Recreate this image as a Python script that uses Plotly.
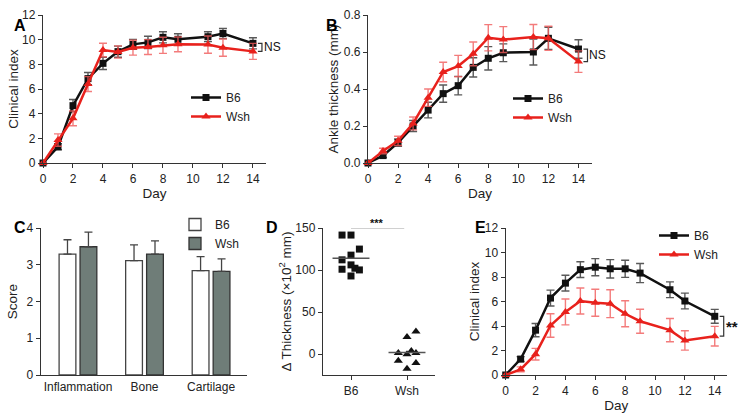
import plotly.graph_objects as go

# ---------------- data ----------------
days = [0, 1, 2, 3, 4, 5, 6, 7, 8, 9, 11, 12, 14]
day_ticks = [0, 2, 4, 6, 8, 10, 12, 14]

a_b6 = [0, 1.32, 4.65, 6.84, 8.08, 9.03, 9.62, 9.78, 10.19, 10.03, 10.24, 10.5, 9.7]
a_b6_err = [0, 0.25, 0.5, 0.5, 0.5, 0.45, 0.4, 0.5, 0.45, 0.45, 0.4, 0.4, 0.45]
a_wsh = [0, 1.86, 3.62, 6.4, 9.16, 9.0, 9.35, 9.4, 9.54, 9.62, 9.6, 9.35, 9.05]
a_wsh_err = [0, 0.5, 0.6, 0.6, 0.55, 0.5, 0.6, 0.6, 0.65, 0.6, 0.7, 0.7, 0.65]

b_b6 = [0, 0.04, 0.11, 0.2, 0.286, 0.375, 0.418, 0.517, 0.566, 0.596, 0.6, 0.674, 0.616]
b_b6_err = [0, 0.01, 0.02, 0.03, 0.042, 0.047, 0.05, 0.052, 0.063, 0.048, 0.07, 0.06, 0.05]
b_wsh = [0, 0.065, 0.12, 0.214, 0.353, 0.492, 0.524, 0.59, 0.677, 0.667, 0.681, 0.674, 0.548]
b_wsh_err = [0, 0.015, 0.025, 0.035, 0.047, 0.053, 0.058, 0.064, 0.071, 0.07, 0.068, 0.065, 0.058]

c_cats = ["Inflammation", "Bone", "Cartilage"]
c_b6 = [3.29, 3.11, 2.84]
c_b6_err = [0.39, 0.43, 0.38]
c_wsh = [3.49, 3.29, 2.82]
c_wsh_err = [0.40, 0.36, 0.34]

d_groups = ["B6", "Wsh"]
d_b6 = [141.6, 141.6, 124.9, 117.7, 112.1, 106.1, 100.9, 102.1, 100.1, 92.9]
d_b6_jitter = [-0.16, 0, 0.15, 0, -0.16, 0, -0.16, 0.07, 0.15, 0]
d_wsh = [20.3, 26.7, 1.2, -0.4, 3.6, 1.2, -8.0, -10.8, -17.6]
d_wsh_jitter = [0, 0.16, -0.155, 0, 0.077, 0.16, -0.155, 0.16, 0]

e_b6 = [0, 1.3, 3.66, 6.28, 7.5, 8.6, 8.8, 8.67, 8.67, 8.32, 6.96, 6.04, 4.79]
e_b6_err = [0, 0.2, 0.54, 0.65, 0.64, 0.64, 0.7, 0.75, 0.7, 0.78, 0.64, 0.64, 0.57]
e_wsh = [0, 0.46, 1.7, 4.04, 5.15, 6.04, 5.9, 5.82, 5.0, 4.39, 3.66, 2.82, 3.17]
e_wsh_err = [0, 0.2, 0.47, 0.96, 1.06, 1.06, 1.1, 1.14, 1.06, 0.98, 0.95, 0.79, 0.8]

# ---------------- style ----------------
FONT = "Liberation Sans, Arial, Helvetica, sans-serif"
BLACK = "#111111"
RED = "#e8211c"
ERR_BLACK = "rgba(60,60,60,0.85)"
ERR_RED = "rgba(240,90,90,0.8)"
AXIS = "#333333"
WSH_FILL = "#6f7d78"

fig = go.Figure()


def line_pair(xa, ya, b6, b6e, wsh, wshe, legend):
    fig.add_trace(go.Scatter(
        x=days, y=b6, mode="lines+markers", name="B6", xaxis=xa, yaxis=ya,
        line=dict(color=BLACK, width=2.5),
        marker=dict(symbol="square", size=7, color=BLACK),
        error_y=dict(type="data", array=b6e, color=ERR_BLACK, thickness=1.4, width=4),
        cliponaxis=False, legend=legend))
    fig.add_trace(go.Scatter(
        x=days, y=wsh, mode="lines+markers", name="Wsh", xaxis=xa, yaxis=ya,
        line=dict(color=RED, width=2.5),
        marker=dict(symbol="triangle-up", size=8, color=RED),
        error_y=dict(type="data", array=wshe, color=ERR_RED, thickness=1.4, width=4),
        cliponaxis=False, legend=legend))


line_pair("x", "y", a_b6, a_b6_err, a_wsh, a_wsh_err, "legend")
line_pair("x2", "y2", b_b6, b_b6_err, b_wsh, b_wsh_err, "legend2")
line_pair("x5", "y5", e_b6, e_b6_err, e_wsh, e_wsh_err, "legend5")

# Panel C bars
fig.add_trace(go.Bar(
    x=c_cats, y=c_b6, name="B6", xaxis="x3", yaxis="y3",
    marker=dict(color="white", line=dict(color="#444444", width=1.3)),
    error_y=dict(type="data", array=c_b6_err, arrayminus=[0] * 3, symmetric=False,
                 color="#444444", thickness=1.3, width=4),
    legend="legend3"))
fig.add_trace(go.Bar(
    x=c_cats, y=c_wsh, name="Wsh", xaxis="x3", yaxis="y3",
    marker=dict(color=WSH_FILL, line=dict(color="#333333", width=1.3)),
    error_y=dict(type="data", array=c_wsh_err, arrayminus=[0] * 3, symmetric=False,
                 color="#444444", thickness=1.3, width=4),
    legend="legend3"))

# Panel D dot plot
fig.add_trace(go.Scatter(
    x=[0 + j for j in d_b6_jitter], y=d_b6, mode="markers", xaxis="x4", yaxis="y4",
    marker=dict(symbol="square", size=7, color=BLACK), showlegend=False, cliponaxis=False))
fig.add_trace(go.Scatter(
    x=[1 + j for j in d_wsh_jitter], y=d_wsh, mode="markers", xaxis="x4", yaxis="y4",
    marker=dict(symbol="triangle-up", size=8, color=BLACK), showlegend=False, cliponaxis=False))
for i, vals in enumerate([d_b6, d_wsh]):
    m = sum(vals) / len(vals)
    fig.add_trace(go.Scatter(
        x=[i - 0.33, i + 0.33], y=[m, m], mode="lines", xaxis="x4", yaxis="y4",
        line=dict(color="#555555", width=1.5), showlegend=False, cliponaxis=False))

# significance line in D
top_d = max(d_b6) + 9
fig.add_shape(type="line", xref="x4", yref="y4", x0=0, x1=0.95, y0=top_d, y1=top_d,
              line=dict(color="#444444", width=1.3))
fig.add_annotation(x=0.47, y=1.0, xref="x4", yref="y4 domain", text="<b>***</b>", showarrow=False,
                   yanchor="bottom", font=dict(size=11, color=BLACK, family=FONT), yshift=-3)


# brackets
def bracket(xr, yr, y0, y1, text, size, bold=False):
    fig.add_shape(type="path", xref=xr, yref=yr,
                  path=f"M 14.33,{y0} L 14.6,{y0} L 14.6,{y1} L 14.33,{y1}",
                  line=dict(color="#333333", width=1.2))
    fig.add_annotation(x=14.6, y=(y0 + y1) / 2, xref=xr, yref=yr,
                       text=f"<b>{text}</b>" if bold else text, showarrow=False,
                       xanchor="left", xshift=0, font=dict(size=size, color=BLACK, family=FONT))


bracket("x", "y", a_b6[-1], a_wsh[-1], "NS", 12)
bracket("x2", "y2", b_b6[-1], b_wsh[-1], "NS", 12)
bracket("x5", "y5", e_b6[-1], e_wsh[-1], "**", 15, bold=True)

# ---------------- axes ----------------
base = dict(showline=True, linecolor=AXIS, linewidth=1.4, ticks="outside", ticklen=4,
            tickwidth=1.3, tickcolor=AXIS, showgrid=False, zeroline=False, automargin=False,
            tickfont=dict(size=12, color="#222222", family=FONT),
            title_font=dict(size=13.5, color="#222222", family=FONT))

H = 415.0
W = 746.0
top_y = [1 - 163 / H, 1 - 15 / H]
bot_y = [1 - 375 / H, 1 - 228 / H]

fig.update_layout(
    xaxis=dict(base, domain=[43 / W, 266 / W], range=[0, 14.87], tickvals=day_ticks,
               title=dict(text="Day", standoff=0), anchor="y"),
    yaxis=dict(base, domain=top_y, range=[0, 12], dtick=2,
               title=dict(text="Clinical index", standoff=0), anchor="x"),
    xaxis2=dict(base, domain=[368 / W, 592 / W], range=[0, 14.9], tickvals=day_ticks,
                title=dict(text="Day", standoff=0), anchor="y2"),
    yaxis2=dict(base, domain=top_y, range=[0, 0.8], tickvals=[0, 0.2, 0.4, 0.6, 0.8],
                tickformat=".1f", title=dict(text="Ankle thickness (mm)", standoff=1), anchor="x2"),
    xaxis3=dict(base, domain=[40.7 / W, 247 / W], range=[-0.56, 2.54], ticks="", anchor="y3"),
    yaxis3=dict(base, domain=bot_y, range=[0, 4], dtick=1,
                title=dict(text="Score", standoff=5), anchor="x3"),
    xaxis4=dict(base, domain=[323 / W, 435 / W], range=[-0.5, 1.5], tickvals=[0, 1],
                ticktext=d_groups, anchor="y4"),
    yaxis4=dict(base, domain=bot_y, range=[-25, 150], tickvals=[0, 50, 100, 150],
                title=dict(text="Δ Thickness (×10<sup>2</sup> mm)", standoff=0), anchor="x4"),
    xaxis5=dict(base, domain=[505.7 / W, 726.7 / W], range=[0, 14.8], tickvals=day_ticks,
                title=dict(text="Day", standoff=0), anchor="y5"),
    yaxis5=dict(base, domain=bot_y, range=[0, 12], dtick=2,
                title=dict(text="Clinical index", standoff=2), anchor="x5"),
    barmode="group", bargap=0.37, bargroupgap=0.2,
    width=746, height=415, margin=dict(l=0, r=0, t=0, b=0),
    paper_bgcolor="white", plot_bgcolor="white",
    font=dict(family=FONT, color="#222222"),
)

leg = dict(bgcolor="rgba(0,0,0,0)", font=dict(size=12, family=FONT, color="#222222"),
           xanchor="left", yanchor="top", itemwidth=30, tracegroupgap=0, borderwidth=0)
fig.update_layout(
    legend=dict(leg, x=186 / W, y=1 - 83 / H),
    legend2=dict(leg, x=508 / W, y=1 - 84 / H),
    legend3=dict(leg, x=175 / W, y=1 - 210 / H),
    legend5=dict(leg, x=654 / W, y=1 - 221 / H),
)

# panel letters
for txt, px, py in [("A", 12, 15), ("B", 332, 15), ("C", 12, 227), ("D", 272, 227), ("E", 480, 227)]:
    fig.add_annotation(x=px / W, y=1 - py / H, xref="paper", yref="paper", text=f"<b>{txt}</b>",
                       showarrow=False, font=dict(size=16, color="black", family=FONT))

fig.write_html("out.html", post_script="document.body.style.margin='0';",
               config={"displayModeBar": False})
